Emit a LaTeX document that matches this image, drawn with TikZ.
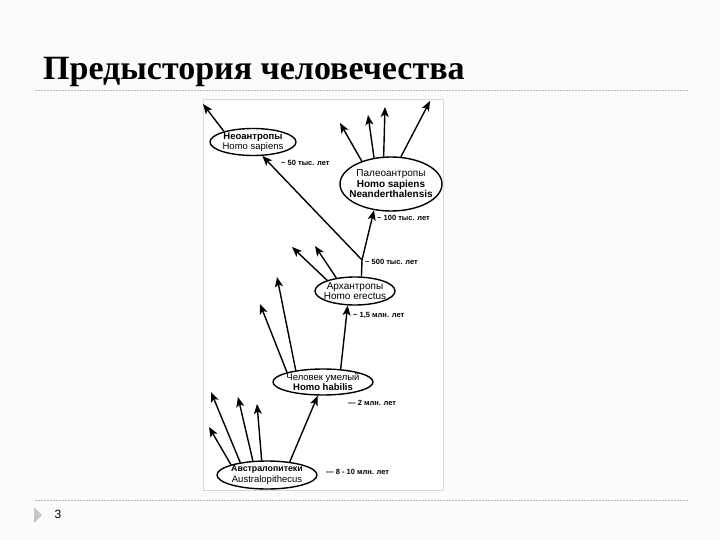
\documentclass[tikz,border=0pt]{standalone}
\usepackage{fontspec}
\setmainfont{Liberation Serif}
\newfontfamily\dsans{Liberation Sans}
\usetikzlibrary{arrows.meta,shapes.geometric}
\begin{document}
\begin{tikzpicture}[x=1pt,y=-1pt,
  ell/.style={ellipse, draw=black, line width=1.4pt, inner sep=0pt},
  etext/.style={align=center, inner sep=0pt, font=\dsans\fontsize{9.5}{10}\selectfont},
  arr/.style={draw=black, line width=1.4pt, -{Stealth[length=10pt,width=8pt,inset=2.5pt]}},
  ln/.style={draw=black, line width=1.4pt},
  lab/.style={anchor=west, inner sep=0pt, font=\dsans\bfseries\fontsize{7.5}{8}\selectfont},
  rule/.style={draw=gray!55, line width=0.8pt, dash pattern=on 2pt off 1pt}]
\useasboundingbox (0,0) rectangle (720,540);
\fill[gray!3] (0,0) rectangle (720,540);
% title and rules
\node[anchor=base west, inner sep=0pt, font=\bfseries\fontsize{34}{40}\selectfont] (title) at (43,80) {Предыстория человечества};
\coordinate (r1a) at (35,90); \coordinate (r1b) at (688,90);
\draw[rule] (r1a) -- (r1b);
\coordinate (r2a) at (35,500); \coordinate (r2b) at (688,500);
\draw[rule] (r2a) -- (r2b);
\fill[gray!45] (34,507) -- (34,523) -- (42,515) -- cycle;
\node[inner sep=0pt, font=\dsans\fontsize{12}{14}\selectfont] (pnum) at (58,514.5) {3};
% panel
\node[draw=gray!30, fill=white, line width=1pt, minimum width=240pt, minimum height=391pt, anchor=north west, inner sep=0pt] (panel) at (203,99) {};
% ellipses
\node[ell, minimum width=86pt, minimum height=27pt] (neo) at (253,142) {};
\node[ell, minimum width=102pt, minimum height=54pt] (paleo) at (391,184) {};
\node[ell, minimum width=80pt, minimum height=28pt] (arch) at (355,291) {};
\node[ell, minimum width=100pt, minimum height=26pt] (hab) at (323,382) {};
\node[ell, minimum width=100pt, minimum height=28pt] (aus) at (267,475) {};
% texts
\node[etext] (neot) at (neo) {\bfseries Неоантропы\\Homo sapiens};
\node[etext, font=\dsans\fontsize{10}{10.5}\selectfont] (paleot) at (paleo) {Палеоантропы\\\bfseries Homo sapiens\\\bfseries Neanderthalensis};
\node[etext, font=\dsans\fontsize{10}{10.5}\selectfont] (archt) at (arch) {Архантропы\\Homo erectus};
\node[etext] (habt) at (hab) {Человек умелый\\\bfseries Homo habilis};
\node[etext, font=\dsans\fontsize{9.5}{10.5}\selectfont] (aust) at (aus) {{\bfseries\fontsize{8.8}{10.5}\selectfont Австралопитеки}\\Australopithecus};
% free ends
\coordinate (J) at (362,260);
\coordinate (tneo) at (203,104);
\coordinate (tp1) at (340,123);
\coordinate (tp2) at (368,115);
\coordinate (tp3) at (385,107);
\coordinate (tp4) at (430,101);
\coordinate (ta1) at (292,247);
\coordinate (ta2) at (315,246);
\coordinate (th1) at (260,304);
\coordinate (th2) at (277,277);
\coordinate (tu1) at (209,427);
\coordinate (tu2) at (211,392);
\coordinate (tu3) at (238,397);
\coordinate (tu4) at (257,404);
% connectors
\draw[arr] (neo.160) -- (tneo);
\draw[arr] (paleo.142) -- (tp1);
\draw[arr] (paleo.123) -- (tp2);
\draw[arr] (paleo.105) -- (tp3);
\draw[arr] (paleo.70) -- (tp4);
\draw[ln] (arch.66) -- (J);
\draw[arr] (J) -- (paleo.237);
\draw[arr] (J) -- (neo.-56);
\draw[arr] (arch.159) -- (ta1);
\draw[arr] (arch.145) -- (ta2);
\draw[arr] (hab.36) -- (arch.243);
\draw[arr] (hab.165) -- (th1);
\draw[arr] (hab.157) -- (th2);
\draw[arr] (aus.30) -- (hab.249);
\draw[arr] (aus.164) -- (tu1);
\draw[arr] (aus.155) -- (tu2);
\draw[arr] (aus.135) -- (tu3);
\draw[arr] (aus.110) -- (tu4);
% labels
\node[lab] (l50) at (281,163) {\textasciitilde\ 50 тыс. лет};
\node[lab] (l100) at (377,218) {\textasciitilde\ 100 тыс. лет};
\node[lab] (l500) at (365,262) {\textasciitilde\ 500 тыс. лет};
\node[lab] (l15) at (353,315) {\textasciitilde\ 1,5 млн. лет};
\node[lab] (l2) at (348,403) {— 2 млн. лет};
\node[lab] (l810) at (326,472) {— 8 - 10 млн. лет};
\end{tikzpicture}
\end{document}
